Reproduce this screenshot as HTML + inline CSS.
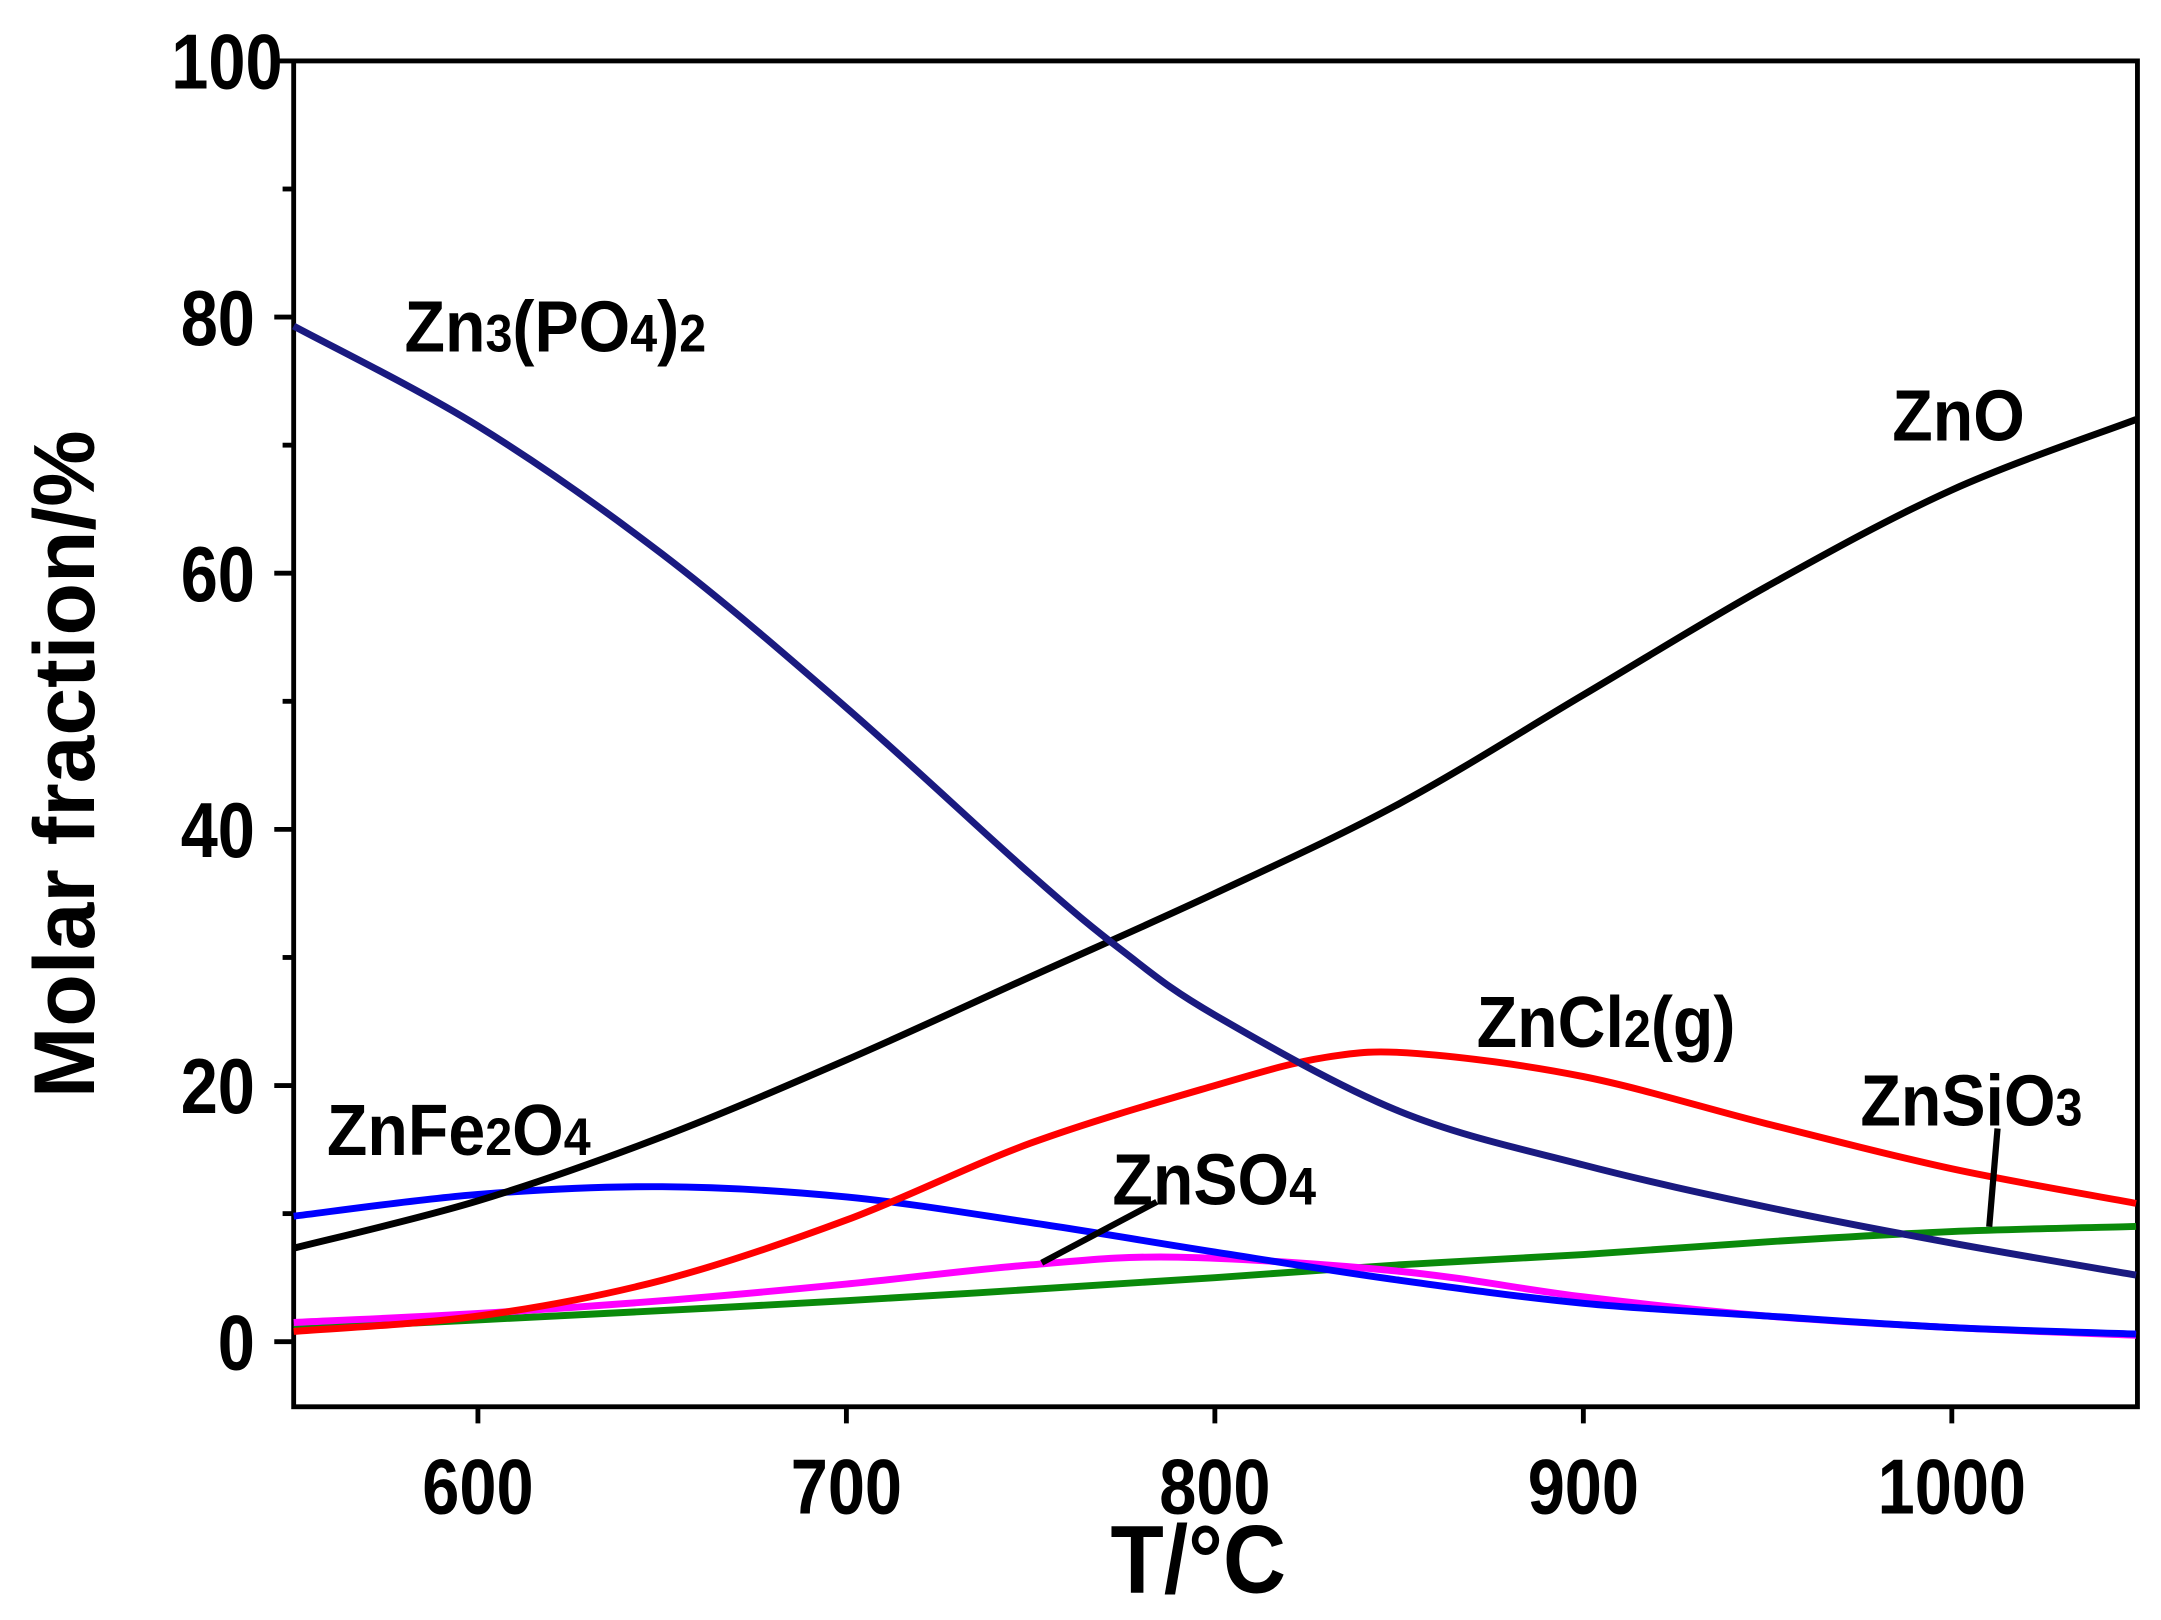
<!DOCTYPE html>
<html><head><meta charset="utf-8"><style>
html,body{margin:0;padding:0;background:#fff}
svg{display:block}
text{font-family:"Liberation Sans",Arial,sans-serif;font-weight:bold;fill:#000}
</style></head><body>
<svg id="s" width="2161" height="1620" viewBox="0 0 1560 1170" preserveAspectRatio="none" xmlns="http://www.w3.org/2000/svg">
<rect x="212" y="44" width="1331" height="972" fill="none" stroke="#000" stroke-width="3.5"/>
<g id="ticks" stroke="#000" stroke-width="3.5"></g>
<g font-size="56" text-anchor="end">
<text transform="translate(204,64) scale(0.86,1)">100</text>
<text transform="translate(184,249) scale(0.86,1)">80</text>
<text transform="translate(184,434) scale(0.86,1)">60</text>
<text transform="translate(184,619) scale(0.86,1)">40</text>
<text transform="translate(184,804) scale(0.86,1)">20</text>
<text transform="translate(184,989) scale(0.86,1)">0</text>
</g>
<g font-size="56" text-anchor="middle">
<text transform="translate(345,1093) scale(0.86,1)">600</text>
<text transform="translate(611,1093) scale(0.86,1)">700</text>
<text transform="translate(877,1093) scale(0.86,1)">800</text>
<text transform="translate(1143,1093) scale(0.86,1)">900</text>
<text transform="translate(1409,1093) scale(0.86,1)">1000</text>
</g>
<text transform="translate(865,1150) scale(0.9,1)" font-size="70" text-anchor="middle">T/°C</text>
<text transform="translate(68,552) rotate(-90)" font-size="62" text-anchor="middle">Molar fraction/%</text>
<g id="curves" fill="none" stroke-width="5"></g>
<line x1="752" y1="912" x2="835" y2="868" stroke="#000" stroke-width="4.5"/>
<line x1="1436" y1="886" x2="1442" y2="815" stroke="#000" stroke-width="4.5"/>
<g font-size="52">
<text transform="translate(292,254) scale(0.92,1)">Zn<tspan font-size="38">3</tspan>(PO<tspan font-size="38">4</tspan>)<tspan font-size="38">2</tspan></text>
<text transform="translate(1366,318) scale(0.92,1)">ZnO</text>
<text transform="translate(1066,756) scale(0.92,1)">ZnCl<tspan font-size="38">2</tspan>(g)</text>
<text transform="translate(1343,813) scale(0.92,1)">ZnSiO<tspan font-size="38">3</tspan></text>
<text transform="translate(236,834) scale(0.92,1)">ZnFe<tspan font-size="38">2</tspan>O<tspan font-size="38">4</tspan></text>
<text transform="translate(803,870) scale(0.92,1)">ZnSO<tspan font-size="38">4</tspan></text>
</g>
</svg>
<script>
var X=t=>212+2.66*(t-550),Y=v=>969-9.25*v;
var tk=document.getElementById('ticks'),h='';
for(var v=0;v<=100;v+=10){var L=v%20?8:14;h+='<line x1="'+(212-L)+'" y1="'+Y(v)+'" x2="212" y2="'+Y(v)+'"/>';}
for(var t=600;t<=1000;t+=100){h+='<line x1="'+X(t)+'" y1="1016" x2="'+X(t)+'" y2="1028"/>';}
tk.innerHTML=h;
function path(d){var p=d.map(a=>[X(a[0]),Y(a[1])]);var s='M'+p[0];
for(var i=0;i<p.length-1;i++){var p0=p[i-1]||p[i],p1=p[i],p2=p[i+1],p3=p[i+2]||p2;
s+=' C'+(p1[0]+(p2[0]-p0[0])/6)+','+(p1[1]+(p2[1]-p0[1])/6)+' '+(p2[0]-(p3[0]-p1[0])/6)+','+(p2[1]-(p3[1]-p1[1])/6)+' '+p2;}return s;}
var S=[
['#0a8a0a',[[550,1],[600,1.7],[700,3.2],[800,5],[850,6],[900,6.8],[950,7.8],[1000,8.6],[1050,9]]],
['#ff00ff',[[550,1.5],[600,2.2],[650,3.2],[700,4.5],[750,6],[790,6.6],[850,5.5],[900,3.5],[950,2],[1000,1.1],[1050,0.5]]],
['#0000ff',[[550,9.8],[600,11.5],[650,12.1],[700,11.3],[750,9.3],[800,7],[850,4.8],[900,3],[950,2],[1000,1.1],[1050,0.6]]],
['#ff0000',[[550,0.8],[600,2],[650,4.8],[700,9.5],[750,15.5],[800,20],[830,22.2],[855,22.5],[900,20.7],[950,17],[1000,13.5],[1050,10.8]]],
['#000000',[[550,7.3],[600,11],[650,16],[700,22],[750,28.5],[800,35],[850,42],[900,50.5],[950,59],[1000,66.5],[1050,72]]],
['#1a1a80',[[550,79.3],[600,71.5],[650,61.5],[700,49.5],[750,36.5],[775,30.5],[800,25.5],[850,18],[900,13.8],[950,10.5],[1000,7.7],[1050,5.2]]]
];
var c='';S.forEach(s=>{c+='<path d="'+path(s[1])+'" stroke="'+s[0]+'"/>';});
document.getElementById('curves').innerHTML=c;
</script>
</body></html>
